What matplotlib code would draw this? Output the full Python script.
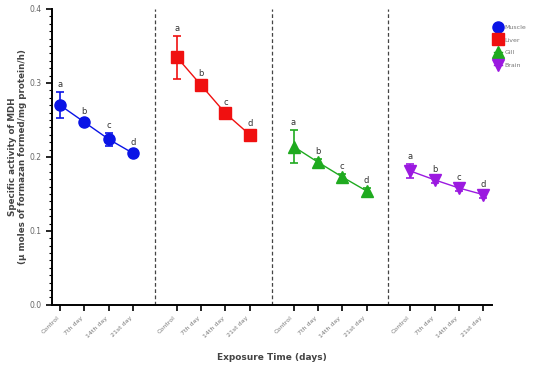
import matplotlib.pyplot as plt
from matplotlib.ticker import MultipleLocator
from matplotlib.lines import Line2D

# data
days = ["Control", "7th day", "14th day", "21st day"]
tissues = ["Muscle", "Liver", "Gill", "Brain"]
muscle = [0.270, 0.247, 0.224, 0.205]
muscle_err = [0.018, 0.004, 0.009, 0.004]
liver = [0.335, 0.297, 0.259, 0.230]
liver_err = [0.029, 0.006, 0.005, 0.005]
gill = [0.214, 0.193, 0.173, 0.154]
gill_err = [0.022, 0.004, 0.004, 0.004]
brain = [0.181, 0.169, 0.158, 0.149]
brain_err = [0.010, 0.004, 0.004, 0.004]
letters = ["a", "b", "c", "d"]

colors = ["#0a14e6", "#f01010", "#1faa1f", "#9b19e0"]
markers = ["o", "s", "^", "v"]
values = [muscle, liver, gill, brain]
errors = [muscle_err, liver_err, gill_err, brain_err]

fig = plt.figure(figsize=(5.36, 3.75), dpi=100)
ax = fig.add_axes([0.097, 0.187, 0.821, 0.789])

step = 4.8  # distance between group starts
xpos_all = []
labels_all = []
for g in range(4):
    xs = [g * step + i for i in range(4)]
    xpos_all += xs
    labels_all += days
    ax.errorbar(xs, values[g], yerr=errors[g], color=colors[g], marker=markers[g],
                markersize=8, lw=1, elinewidth=1.2, capsize=3, capthick=1.2)
    for x, y, e, l in zip(xs, values[g], errors[g], letters):
        ax.text(x, y + e + 0.004, l, ha="center", va="bottom", fontsize=6, color="#333333")

for g in range(3):
    ax.axvline(g * step + 3.9, color="#444444", ls=(0, (3, 2)), lw=0.9)

ax.set_xlim(-0.33, 17.76)
ax.set_ylim(0, 0.4)
ax.set_xticks(xpos_all)
ax.set_xticklabels(labels_all, rotation=45, ha="right", fontsize=4.5, color="#777777")
ax.yaxis.set_major_locator(MultipleLocator(0.1))
ax.yaxis.set_minor_locator(MultipleLocator(0.01))
ax.set_yticklabels([f"{v:.1f}" for v in ax.get_yticks()], fontsize=5.5, color="#666666")
ax.tick_params(axis="both", which="major", width=1.2, length=4, color="black")
ax.tick_params(axis="y", which="minor", width=0.8, length=2)
for s in ["top", "right"]:
    ax.spines[s].set_visible(False)
for s in ["left", "bottom"]:
    ax.spines[s].set_linewidth(1.4)

ax.set_ylabel("Specific activity of MDH\n(\u00b5 moles of formazan formed/mg protein/h)",
              fontsize=6.3, fontweight="bold", color="#444444")
ax.yaxis.set_label_coords(-0.056, 0.5)
ax.set_xlabel("Exposure Time (days)", fontsize=6.5, fontweight="bold", color="#444444",
              labelpad=10)

handles = [Line2D([0], [0], color=c, marker=m, markersize=8, lw=1)
           for c, m in zip(colors, markers)]
fig.legend(handles, tissues, loc="upper left", bbox_to_anchor=(0.912, 0.95),
           frameon=False, fontsize=4.5, labelcolor="#777777", handlelength=1.2,
           labelspacing=1.2, handletextpad=0.4)

fig.savefig("out.png", dpi=100)
